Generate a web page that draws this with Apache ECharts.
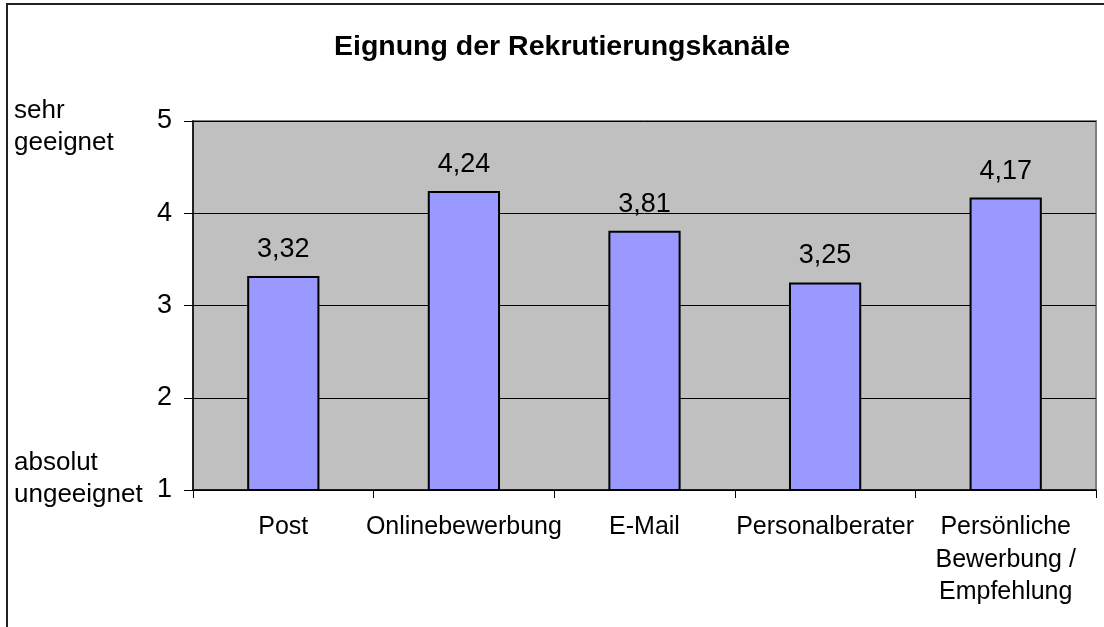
<!DOCTYPE html>
<html>
<head>
<meta charset="utf-8">
<script src="https://cdn.jsdelivr.net/npm/echarts@6/dist/echarts.min.js"></script>
<style>
html,body{margin:0;padding:0;background:#fff;}
#chart{width:1104px;height:627px;}
</style>
</head>
<body>
<div id="chart"></div>
<script>
var titleText = 'Eignung der Rekrutierungskanäle';
var categories = ['Post', 'Onlinebewerbung', 'E-Mail', 'Personalberater', 'Persönliche\nBewerbung /\nEmpfehlung'];
var values = [3.32, 4.24, 3.81, 3.25, 4.17];
var yTop = 'sehr\ngeeignet';
var yBottom = 'absolut\nungeeignet';

var FONT = '"Liberation Sans", Arial, sans-serif';
var chart = echarts.init(document.getElementById('chart'));
chart.setOption({
  backgroundColor: '#fff',
  animation: false,
  grid: {
    left: 193, right: 8, top: 121, bottom: 137,
    show: true, backgroundColor: '#C0C0C0', borderColor: '#808080', borderWidth: 2
  },
  xAxis: {
    type: 'category',
    data: categories,
    axisLine: {lineStyle: {color: '#000', width: 1.5}},
    axisTick: {show: true, length: 8, lineStyle: {color: '#000'}},
    axisLabel: {color: '#000', fontFamily: FONT, fontSize: 25, lineHeight: 32.5, margin: 21, interval: 0}
  },
  yAxis: {
    type: 'value',
    min: 1, max: 5, interval: 1,
    axisLine: {show: true, lineStyle: {color: '#000', width: 1.5}},
    axisTick: {show: true, length: 9, lineStyle: {color: '#000'}},
    axisLabel: {color: '#000', fontFamily: FONT, fontSize: 27, margin: 21},
    splitLine: {show: true, lineStyle: {color: '#000', width: 1}}
  },
  series: [{
    type: 'bar',
    data: values,
    barWidth: '40%',
    itemStyle: {color: '#9999FF', borderColor: '#000', borderWidth: 2},
    label: {
      show: true, position: 'top', distance: 13, color: '#000',
      fontFamily: FONT, fontSize: 27,
      formatter: function (p) { return p.value.toFixed(2).replace('.', ','); }
    }
  }],
  graphic: [
    {type: 'rect', shape: {x: 7, y: 4, width: 1200, height: 700}, style: {fill: 'none', stroke: '#222', lineWidth: 2}, silent: true},
    {type: 'text', x: 562, y: 47, style: {text: titleText, fill: '#000', font: 'bold 28.5px ' + FONT, textAlign: 'center', textVerticalAlign: 'middle'}},
    {type: 'text', x: 14, y: 127, style: {text: yTop, fill: '#000', font: '26px ' + FONT, lineHeight: 32, textAlign: 'left', textVerticalAlign: 'middle'}},
    {type: 'text', x: 14, y: 479, style: {text: yBottom, fill: '#000', font: '26px ' + FONT, lineHeight: 32, textAlign: 'left', textVerticalAlign: 'middle'}}
  ]
});
</script>
</body>
</html>
